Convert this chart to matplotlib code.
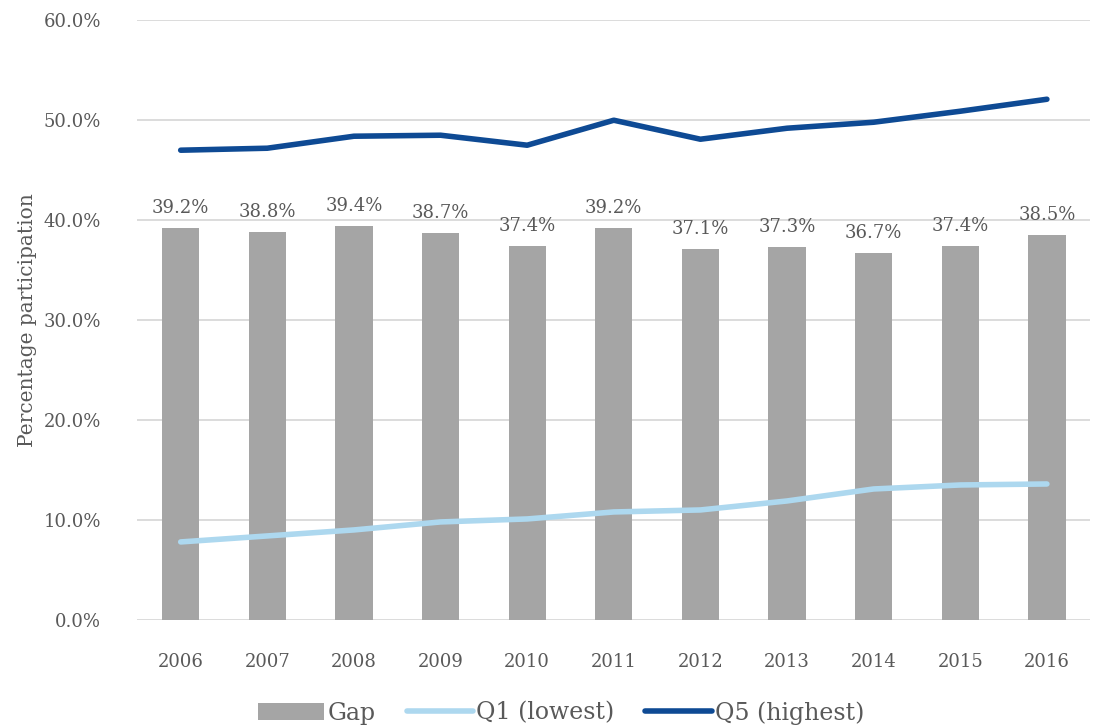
import numpy as np
import matplotlib.pyplot as plt

years = ["2006", "2007", "2008", "2009", "2010", "2011", "2012", "2013", "2014", "2015", "2016"]
gap = [39.2, 38.8, 39.4, 38.7, 37.4, 39.2, 37.1, 37.3, 36.7, 37.4, 38.5]
q1 = [7.8, 8.4, 9.0, 9.8, 10.1, 10.8, 11.0, 11.9, 13.1, 13.5, 13.6]
q5 = [47.0, 47.2, 48.4, 48.5, 47.5, 50.0, 48.1, 49.2, 49.8, 50.9, 52.1]

plt.rcParams['font.family'] = ['DejaVu Serif']
txt = '#595959'

fig = plt.figure(figsize=(10.99, 7.25), dpi=100)
ax = fig.add_axes([0.125, 0.145, 0.867, 0.827])

x = np.arange(len(years))
bars = ax.bar(x, gap, width=0.43, color='#A5A5A5', label='Gap', zorder=2)
l1, = ax.plot(x, q1, color='#ADD8EF', lw=4, solid_capstyle='round', label='Q1 (lowest)', zorder=3)
l5, = ax.plot(x, q5, color='#0E4A94', lw=4, solid_capstyle='round', label='Q5 (highest)', zorder=3)

for xi, v in zip(x, gap):
    ax.text(xi, v + 1.1, f'{v:.1f}%', ha='center', va='bottom', fontsize=13, color=txt)

ax.set_xlim(-0.5, len(years) - 0.5)
ax.set_ylim(0, 60)
ax.set_yticks(np.arange(0, 61, 10))
ax.set_yticklabels([f'{t:.1f}%' for t in np.arange(0, 61, 10)])
ax.set_xticks(x)
ax.set_xticklabels(years)
ax.tick_params(axis='both', length=0, labelsize=13, labelcolor=txt)
ax.tick_params(axis='x', pad=24)
ax.tick_params(axis='y', pad=26)
ax.grid(axis='y', color='#D9D9D9', lw=1.3, zorder=0)
for s in ax.spines.values():
    s.set_visible(False)
ax.set_ylabel('Percentage participation', fontsize=14.5, color=txt, labelpad=5)

ax.legend([bars, l1, l5], ['Gap', 'Q1 (lowest)', 'Q5 (highest)'],
          loc='upper center', bbox_to_anchor=(0.445, -0.1), ncol=3, frameon=False,
          fontsize=17, labelcolor=txt, handlelength=2.8, handletextpad=0.15, columnspacing=1.3)

fig.savefig('out.png', dpi=100)
